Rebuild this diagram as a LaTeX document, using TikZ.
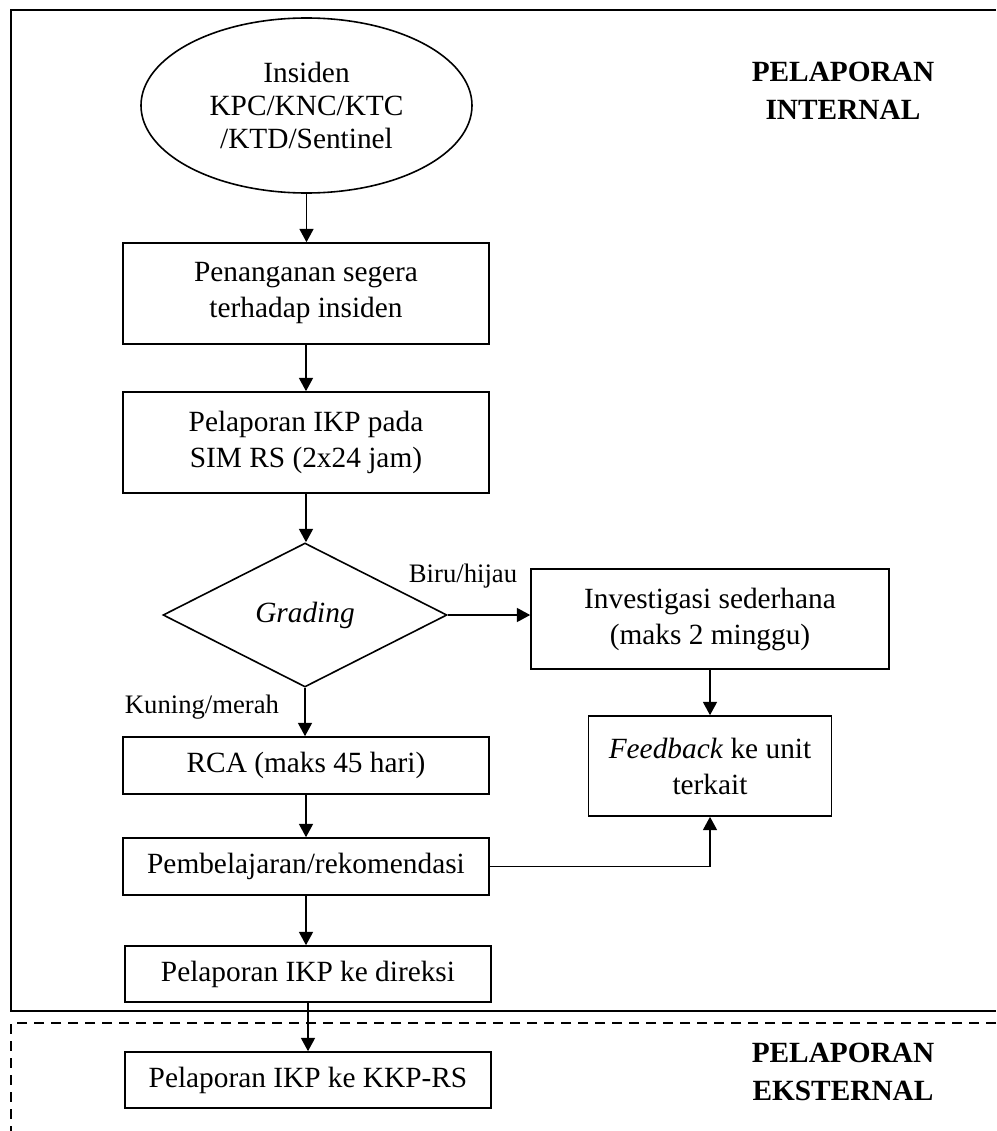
\documentclass[tikz,border=0pt]{standalone}
\usepackage{fontspec}
\setmainfont{Liberation Serif}
\usetikzlibrary{shapes.geometric,arrows.meta}

\begin{document}
\begin{tikzpicture}[x=0.75pt,y=-0.75pt,
  stepbox/.style={draw, rectangle, line width=1.2pt, inner sep=0pt, align=center,
                  font=\fontsize{22}{27}\selectfont},
  arr/.style={line width=1.2pt, -{Triangle[length=10pt,width=10.5pt]}},
  frame/.style={line width=1.6pt},
  dframe/.style={line width=1.3pt, dash pattern=on 7.5pt off 5.25pt},
  lbl/.style={inner sep=0pt, font=\fontsize{20}{24}\selectfont},
  hdr/.style={inner sep=0pt, align=center, font=\bfseries\fontsize{22}{28.1}\selectfont}]

\useasboundingbox (0,0) rectangle (996,1131);

% section frames
\draw[frame] (996,10) -- (11,10) -- (11,1011) -- (996,1011);
\draw[dframe] (996,1023) -- (11,1023) -- (11,1131);

% section headings
\node[hdr] (hint) at (843,91) {PELAPORAN\\INTERNAL};
\node[hdr] (hext) at (843,1072) {PELAPORAN\\EKSTERNAL};

% flow nodes
\node[ellipse, draw, line width=1.2pt, minimum width=248.25pt, minimum height=131.25pt,
      inner sep=0pt, align=center, font=\fontsize{22}{24.75}\selectfont]
      (inc) at (306.5,105.5) {Insiden\\KPC/KNC/KTC\\/KTD/Sentinel};
\node[stepbox, minimum width=274.5pt, minimum height=75.75pt] (hand) at (306,293.5)
      {Penanganan segera\\terhadap insiden};
\node[stepbox, minimum width=274.5pt, minimum height=75.75pt] (sim) at (306,442.5)
      {Pelaporan IKP pada\\SIM RS (2x24 jam)};
\node[diamond, draw, line width=1.2pt, minimum width=213pt, minimum height=108pt,
      inner sep=0pt, font=\itshape\fontsize{22}{27}\selectfont] (grd) at (305,615) {Grading};
\node[stepbox, minimum width=268.5pt, minimum height=75pt] (inv) at (710,619)
      {Investigasi sederhana\\(maks 2 minggu)};
\node[stepbox, minimum width=182.25pt, minimum height=75pt] (fb) at (710,766)
      {\textit{Feedback} ke unit\\terkait};
\node[stepbox, minimum width=274.5pt, minimum height=42.75pt] (rca) at (306,765.5)
      {RCA (maks 45 hari)};
\node[stepbox, minimum width=274.5pt, minimum height=42.75pt] (lrn) at (306,866.5)
      {Pembelajaran/rekomendasi};
\node[stepbox, minimum width=274.5pt, minimum height=42pt] (dir) at (308,974)
      {Pelaporan IKP ke direksi};
\node[stepbox, minimum width=274.5pt, minimum height=42pt] (kkp) at (308,1080)
      {Pelaporan IKP ke KKP-RS};

% branch labels
\node[lbl, anchor=base] (lblue) at (463,582) {Biru/hijau};
\node[lbl, anchor=base] (lred) at (202,713) {Kuning/merah};

% connectors
\draw[arr] (inc.south) -- (inc.south |- hand.north);
\draw[arr] (hand.south) -- (sim.north);
\draw[arr] (sim.south) -- (sim.south |- grd.north);
\draw[arr] (grd.east) -- (inv.west |- grd.east);
\draw[arr] (inv.south) -- (fb.north);
\draw[arr] (grd.south) -- (grd.south |- rca.north);
\draw[arr] (rca.south) -- (lrn.north);
\draw[arr] (lrn.south) -- (lrn.south |- dir.north);
\draw[arr] (dir.south) -- (kkp.north);
\draw[arr] (lrn.east) -| (fb.south);

\end{tikzpicture}
\end{document}
